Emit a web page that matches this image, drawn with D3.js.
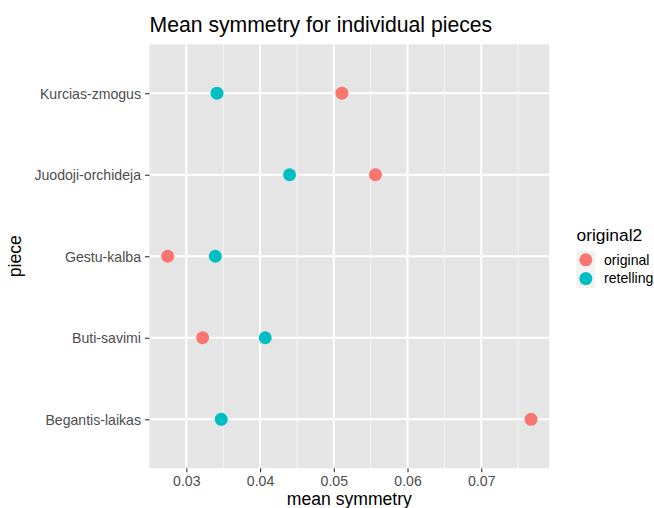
<!DOCTYPE html>
<html><head><meta charset="utf-8">
<script src="https://cdn.jsdelivr.net/npm/d3@7"></script>
<style>body{margin:0;background:#fff}svg{display:block}text{font-family:"Liberation Sans",Arial,Helvetica,sans-serif}</style>
</head><body><svg id="c" width="654" height="508"></svg>
<script>
const pieces = ["Kurcias-zmogus","Juodoji-orchideja","Gestu-kalba","Buti-savimi","Begantis-laikas"];
const originalVals = [0.0511, 0.05565, 0.02747, 0.03221, 0.07675];
const retellingVals = [0.03416, 0.0440, 0.03393, 0.0407, 0.03474];
const groups = ["original","retelling"];
const groupColors = ["#F8766D","#00BFC4"];
const xTicks = [0.03,0.04,0.05,0.06,0.07];
const xMinor = [0.025,0.035,0.045,0.055,0.065,0.075];

const svg = d3.select("#c");
const L=149.5, R=549.2, T=44.3, B=468.2;
const all = originalVals.concat(retellingVals);
const mn=d3.min(all), mx=d3.max(all), pad=(mx-mn)*0.05;
const x = d3.scaleLinear().domain([mn-pad, mx+pad]).range([L,R]);
const y = d3.scalePoint().domain(pieces).range([T,B]).padding(0.6);

svg.append("rect").attr("x",L).attr("y",T).attr("width",R-L).attr("height",B-T).attr("fill","#E5E5E5");
svg.append("g").selectAll("line").data(xMinor.filter(v=>x(v)>L&&x(v)<R)).join("line")
  .attr("x1",d=>x(d)).attr("x2",d=>x(d)).attr("y1",T).attr("y2",B).attr("stroke","#F5F5F5").attr("stroke-width",1);
svg.append("g").selectAll("line").data(xTicks).join("line")
  .attr("x1",d=>x(d)).attr("x2",d=>x(d)).attr("y1",T).attr("y2",B).attr("stroke","#fff").attr("stroke-width",2);
svg.append("g").selectAll("line").data(pieces).join("line")
  .attr("x1",L).attr("x2",R).attr("y1",d=>y(d)).attr("y2",d=>y(d)).attr("stroke","#fff").attr("stroke-width",2);

// axes
const xa = svg.append("g").attr("transform",`translate(0,${B})`)
  .call(d3.axisBottom(x).tickValues(xTicks).tickFormat(d3.format(".2f")).tickSize(4).tickPadding(3.5));
const ya = svg.append("g").attr("transform",`translate(${L},0)`)
  .call(d3.axisLeft(y).tickSize(4.5).tickPadding(4));
[xa,ya].forEach(a=>{a.select(".domain").remove();a.selectAll(".tick line").attr("stroke","#333").attr("stroke-width",1.1);
  a.selectAll(".tick text").attr("fill","#4D4D4D").style("font-size","14.1px");});
xa.selectAll(".tick text").attr("dy","0.71em");
ya.selectAll(".tick text").attr("dy","0.35em");

// points
const pts=[];
pieces.forEach((p,i)=>{pts.push({p,v:originalVals[i],g:0});pts.push({p,v:retellingVals[i],g:1});});
svg.append("g").selectAll("circle").data(pts).join("circle")
  .attr("cx",d=>x(d.v)).attr("cy",d=>y(d.p)).attr("r",6.5).attr("fill",d=>groupColors[d.g]);

// titles
svg.append("text").attr("x",L).attr("y",32).text("Mean symmetry for individual pieces").style("font-size","21.2px").attr("fill","#000");
svg.append("text").attr("x",(L+R)/2).attr("y",505).attr("text-anchor","middle").text("mean symmetry").style("font-size","17.6px").attr("fill","#000");
svg.append("text").attr("transform",`translate(21,${(T+B)/2}) rotate(-90)`).attr("text-anchor","middle").text("piece").style("font-size","17.6px").attr("fill","#000");

// legend
const lg = svg.append("g");
lg.append("text").attr("x",576.5).attr("y",241).text("original2").style("font-size","17.4px").attr("fill","#000");
const ks=18.7, ky0=250.5;
groups.forEach((g,i)=>{
  lg.append("rect").attr("x",576.5).attr("y",ky0+i*ks).attr("width",ks).attr("height",ks).attr("fill","#F2F2F2");
  lg.append("circle").attr("cx",576.5+ks/2).attr("cy",ky0+i*ks+ks/2).attr("r",6.5).attr("fill",groupColors[i]);
  lg.append("text").attr("x",604).attr("y",ky0+i*ks+ks/2).attr("dy","0.35em").text(g).style("font-size","14.1px").attr("fill","#000");
});
</script></body></html>
